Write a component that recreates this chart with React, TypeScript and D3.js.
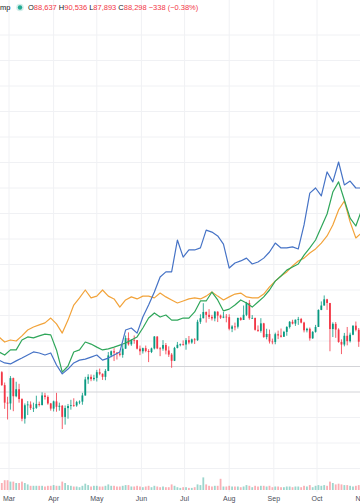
import React from 'react';
import * as d3 from 'd3';

const W = 360;
const H = 504;

// Main series (BTC, k USD), 2-day candles starting 2025-02-22
const candleStart = new Date(2025, 1, 22);
const btcOpenFirst = 96.2;
const btcClose = [
  96.5, 91.5, 84.7, 84.4, 94.2, 87.2, 89.9, 86.1, 78.5, 83.7, 84.0, 82.6, 82.7, 84.2, 83.8, 87.5,
  86.9, 84.4, 82.4, 85.2, 83.1, 83.5, 79.2, 82.6, 83.4, 83.7, 83.6, 84.9, 85.1, 87.5, 93.7, 94.7,
  93.8, 94.3, 96.5, 95.9, 94.7, 97.0, 103.0, 104.6, 104.1, 103.7, 103.2, 105.6, 109.7, 107.3, 109.0, 108.9,
  105.6, 104.6, 105.8, 104.7, 104.3, 105.7, 110.3, 105.7, 105.6, 107.0, 104.9, 103.3, 100.9, 105.9, 107.1, 107.3,
  107.2, 108.9, 108.0, 109.2, 108.9, 116.0, 117.4, 119.8, 118.7, 117.9, 117.3, 119.9, 118.4, 117.6, 118.0, 117.8,
  113.3, 114.2, 114.1, 117.5, 116.7, 118.7, 123.3, 117.4, 117.5, 112.9, 112.5, 115.4, 110.1, 111.3, 108.4, 108.2,
  111.2, 110.7, 110.2, 112.1, 114.0, 116.0, 115.3, 116.8, 117.1, 115.7, 112.7, 113.3, 109.6, 112.1, 114.0, 120.6,
  122.3, 124.7, 123.3, 113.2, 115.2, 113.0, 108.2, 107.2, 110.6, 108.5, 111.0, 114.5, 112.9, 108.3, 110.1,
];
const btcHigh = [
  99.0, 96.9, 92.5, 87.0, 95.0, 94.4, 92.8, 92.0, 86.4, 84.4, 85.3, 85.2, 84.7, 87.4, 85.1, 88.7,
  88.5, 87.5, 84.6, 85.5, 88.5, 84.7, 83.8, 83.6, 84.2, 85.8, 86.4, 85.4, 85.6, 88.5, 94.7, 95.7,
  95.6, 95.5, 97.4, 97.9, 96.0, 97.7, 104.3, 104.9, 105.8, 104.2, 104.5, 107.0, 110.7, 111.9, 109.3, 110.7,
  108.9, 106.8, 106.0, 106.8, 105.4, 106.0, 110.5, 110.4, 106.2, 108.9, 107.8, 106.5, 103.9, 106.3, 108.2, 107.6,
  108.8, 109.7, 110.5, 109.5, 109.7, 116.8, 118.9, 123.2, 120.0, 120.9, 118.7, 120.2, 120.1, 118.8, 119.8, 119.0,
  118.9, 114.7, 115.7, 117.6, 117.9, 122.3, 123.7, 124.4, 118.6, 117.6, 114.6, 117.4, 115.6, 113.3, 113.0, 109.5,
  111.8, 112.6, 113.4, 112.5, 114.3, 116.3, 116.8, 116.9, 117.9, 117.5, 116.0, 113.7, 113.8, 112.4, 114.8, 120.8,
  123.9, 126.2, 124.9, 123.0, 115.8, 115.9, 113.5, 109.2, 111.7, 114.0, 111.8, 114.6, 116.1, 113.6, 110.6,
];
const btcLow = [
  95.8, 91.2, 82.3, 78.2, 82.0, 81.4, 86.8, 84.7, 77.5, 76.6, 79.9, 81.9, 81.1, 82.3, 83.2, 83.6,
  85.9, 83.9, 81.6, 81.3, 81.2, 81.6, 74.5, 76.2, 78.5, 82.0, 83.1, 83.1, 84.1, 83.9, 87.4, 92.0,
  93.0, 93.2, 92.9, 95.3, 93.5, 93.4, 96.9, 102.3, 100.8, 101.4, 102.6, 102.1, 105.5, 106.8, 106.7, 107.5,
  105.3, 103.1, 103.7, 104.2, 100.4, 103.9, 105.3, 105.4, 102.7, 104.8, 103.4, 102.4, 98.2, 100.8, 105.7, 106.5,
  106.8, 105.2, 107.3, 107.5, 107.4, 108.6, 115.2, 117.3, 115.7, 117.1, 116.5, 116.2, 115.9, 117.1, 117.4, 115.8,
  112.7, 112.0, 112.7, 113.4, 116.4, 118.0, 118.2, 116.8, 117.2, 112.6, 112.1, 111.8, 109.8, 109.2, 107.6, 107.3,
  107.3, 109.3, 109.9, 110.2, 110.6, 113.4, 115.0, 114.4, 114.8, 115.4, 111.9, 111.9, 108.7, 109.4, 111.8, 114.0,
  120.5, 122.3, 120.6, 104.6, 110.1, 109.8, 107.9, 103.5, 106.5, 106.9, 108.0, 110.8, 112.3, 106.3, 108.0,
];
const btcVolume = [
  4, 5, 7, 7, 6, 6, 5, 5, 6, 5, 4, 3, 3, 3, 3, 3,
  2.5, 3, 3, 3.5, 3, 3, 6, 5, 3.5, 3, 2.5, 2.5, 2, 3, 4.5, 3.5,
  2.5, 3, 3, 2.5, 2.5, 3, 4, 3, 3, 2.5, 2.5, 3, 3.5, 3.5, 2.5, 2.5,
  3, 2.5, 2, 2.5, 3, 2, 3, 2.5, 2, 2.5, 2, 2, 4, 3, 2, 1.5,
  2, 2, 1.5, 1.5, 2, 4, 3.5, 9, 4, 3, 2.5, 3, 3, 8, 2.5, 2.5,
  3, 2.5, 2.5, 2.5, 2, 2.5, 3.5, 3, 2, 3, 2.5, 3, 3, 2.5, 3, 2,
  2.5, 2.5, 2, 2, 2.5, 2.5, 2, 2.5, 2.5, 2, 3, 2.5, 3.5, 2, 3, 3.5,
  3, 3.5, 3, 6, 5, 4, 4.5, 4, 3.5, 3.5, 3, 2.5, 3, 3.5, 3,
];
const compareBase = 98.7;

// Compared symbols, % change, every 4 days starting 2025-02-22
const goldPct = [
  11.6, 9.6, 10.4, 10.0, 12.0, 14.3, 15.5, 16.3, 17.1, 19.0, 16.7, 13.1, 18.2, 24.1, 26.9, 30.0,
  26.9, 27.6, 30.0, 27.6, 26.5, 23.3, 26.1, 27.3, 26.5, 27.6, 27.6, 26.9, 28.8, 27.3, 26.1, 24.9,
  25.7, 26.5, 26.9, 26.5, 27.6, 29.2, 27.6, 26.1, 27.3, 28.4, 28.8, 27.3, 26.9, 26.9, 28.4, 31.2,
  33.5, 35.5, 37.1, 39.4, 41.4, 42.5, 44.5, 46.1, 48.4, 51.2, 55.5, 61.4, 64.9, 56.7, 50.4, 52.4,
];
const silverPct = [
  5.7, 4.5, 6.5, 6.5, 10.4, 11.6, 11.2, 12.0, 12.7, 12.4, 6.5, -2.2, 0.2, 5.7, 6.5, 9.6,
  8.8, 7.6, 6.5, 6.9, 7.6, 8.4, 9.2, 10.4, 11.6, 15.1, 19.0, 21.0, 19.4, 20.2, 18.2, 18.2,
  19.0, 19.0, 21.4, 25.7, 25.7, 29.2, 26.1, 21.8, 22.5, 24.1, 26.1, 24.9, 23.3, 25.3, 27.3, 30.0,
  33.5, 35.5, 37.8, 39.0, 40.2, 43.7, 46.5, 49.6, 54.7, 59.8, 68.4, 72.4, 65.3, 58.2, 55.1, 61.4,
];
const platinumPct = [
  2.5, 1.4, 1.0, 2.2, 3.3, 4.5, 5.7, 5.3, 4.5, 5.3, 0.6, -2.9, -1.0, 1.4, 2.5, 2.9,
  3.7, 4.5, 2.5, 3.3, 4.5, 5.7, 14.3, 15.1, 13.1, 19.4, 24.1, 29.2, 35.1, 37.1, 37.1, 49.6,
  42.9, 45.7, 45.7, 46.5, 53.5, 52.7, 51.2, 48.0, 38.6, 40.6, 41.4, 42.5, 40.2, 41.0, 42.5, 44.9,
  48.4, 46.5, 46.5, 46.9, 46.1, 55.5, 68.0, 70.0, 66.9, 76.3, 72.4, 80.2, 71.2, 72.7, 70.0, 70.0,
];

const headerSymbol = 'mp';
const headerLabels = ['O', 'H', 'L', 'C'];
const headerValues = ['88,637', '90,536', '87,893', '88,298'];
const headerChange = '\u2212338 (\u22120.38%)';

const UP = '#089981';
const DOWN = '#f23645';
const FONT = '"Liberation Sans", Arial, sans-serif';

export default function App() {
  const x = d3.scaleTime().domain([new Date(2025, 2, 1), new Date(2025, 9, 1)]).range([9, 317]);
  const y = d3.scaleLinear().domain([-40, 130]).range([468.5, 35]);
  const vy = d3.scaleLinear().domain([0, 10]).range([490, 476]);
  const toPct = (p: number) => (p / compareBase - 1) * 100;

  const candles = btcClose.map((c, i) => ({
    date: d3.timeDay.offset(candleStart, 2 * i),
    o: i ? btcClose[i - 1] : btcOpenFirst,
    h: btcHigh[i],
    l: btcLow[i],
    c,
    v: btcVolume[i],
  }));
  const lineDates = goldPct.map((_, i) => d3.timeDay.offset(candleStart, 4 * i));
  const lineGen = d3
    .line<number>()
    .x((_, i) => x(lineDates[i]))
    .y((d) => y(d));

  const months = d3.timeMonth.range(new Date(2025, 2, 1), new Date(2025, 10, 2));
  const fmt = d3.timeFormat('%b');
  const yTicks = d3.range(-40, 131, 10);
  const bw = 1.8;

  return (
    <svg
      width={W}
      height={H}
      style={{ position: 'fixed', left: 0, top: 0, background: '#fff' }}
      fontFamily={FONT}
    >
      <rect x={0} y={0} width={W} height={H} fill="#fff" />
      {/* grid */}
      {months.map((m, i) => (
        <line key={'vg' + i} x1={x(m)} x2={x(m)} y1={0} y2={492} stroke="#f0f1f4" strokeWidth={1} />
      ))}
      {yTicks.map((t) => (
        <line
          key={'hg' + t}
          x1={0}
          x2={W}
          y1={y(t)}
          y2={y(t)}
          stroke={t === 0 || t === -10 ? '#d3d4d8' : '#f0f1f4'}
          strokeWidth={1}
        />
      ))}

      {/* volume */}
      {candles.map((d, i) => (
        <rect
          key={'v' + i}
          x={x(d.date) - bw / 2}
          y={vy(d.v)}
          width={bw}
          height={vy(0) - vy(d.v)}
          fill={d.c >= d.o ? 'rgba(8,153,129,0.4)' : 'rgba(242,54,69,0.4)'}
        />
      ))}

      {/* candles */}
      {candles.map((d, i) => {
        const col = d.c >= d.o ? UP : DOWN;
        const cx = x(d.date);
        const top = y(toPct(Math.max(d.o, d.c)));
        const bot = y(toPct(Math.min(d.o, d.c)));
        return (
          <g key={'c' + i}>
            <line x1={cx} x2={cx} y1={y(toPct(d.h))} y2={y(toPct(d.l))} stroke={col} strokeWidth={0.8} />
            <rect x={cx - bw / 2} y={top} width={bw} height={Math.max(0.8, bot - top)} fill={col} />
          </g>
        );
      })}

      {/* compare lines */}
      <path d={lineGen(goldPct) || ''} fill="none" stroke="#f2a33a" strokeWidth={1.2} strokeLinejoin="round" />
      <path d={lineGen(silverPct) || ''} fill="none" stroke="#2fa65a" strokeWidth={1.2} strokeLinejoin="round" />
      <path d={lineGen(platinumPct) || ''} fill="none" stroke="#4673c6" strokeWidth={1.2} strokeLinejoin="round" />

      {/* header */}
      <text x={0} y={10} fontSize={7.5} fill="#131722">{headerSymbol}</text>
      <circle cx={20} cy={7.5} r={3.8} fill="#22ab94" opacity={0.2} />
      <circle cx={20} cy={7.5} r={2.2} fill="#22ab94" />
      <text x={28} y={10} fontSize={7.5}>
        {headerLabels.map((lab, i) => (
          <React.Fragment key={lab}>
            <tspan dx={i ? 2 : 0} fill="#131722">{lab}</tspan>
            <tspan fill={DOWN}>{headerValues[i]}</tspan>
          </React.Fragment>
        ))}
        <tspan dx={2} fill={DOWN}>{headerChange}</tspan>
      </text>

      {/* time axis labels */}
      {months.map((m, i) => (
        <text key={'ml' + i} x={x(m)} y={501} fontSize={7} fill="#4a4e59" textAnchor="middle">
          {fmt(m)}
        </text>
      ))}
    </svg>
  );
}
